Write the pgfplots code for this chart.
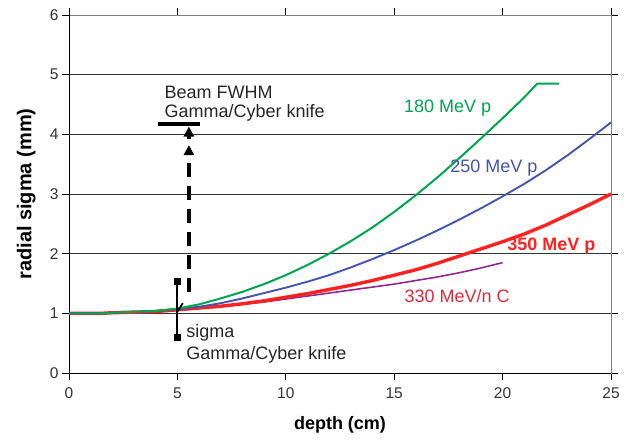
\documentclass[border=0pt]{standalone}
\usepackage{pgfplots}
\pgfplotsset{compat=1.18}
\usetikzlibrary{arrows.meta}
\usepackage{fontspec}
\setmainfont{Liberation Sans}
\definecolor{c180}{HTML}{00A550}
\definecolor{c250}{HTML}{4455AA}
\definecolor{c350}{HTML}{FF2222}
\definecolor{c330}{HTML}{8E2A8E}
\definecolor{l330}{HTML}{DD2A3A}

\begin{document}
\begin{tikzpicture}
\useasboundingbox (0,0) rectangle (626bp,440bp);
\begin{axis}[
  at={(69bp,67bp)}, anchor=south west,
  scale only axis,
  width=542bp, height=358bp,
  xmin=0, xmax=25, ymin=0, ymax=6,
  xtick={0,5,...,25}, ytick={0,1,...,6},
  ymajorgrids,
  grid style={black!80, line width=0.9bp},
  axis line style={draw=gray, line width=0.9bp},
  tick style={black, line width=0.9bp},
  tick align=outside,
  major tick length=7bp,
  tick label style={font=\fontsize{15.5bp}{18bp}\selectfont, text=black!80},
  x tick label style={yshift=-4bp},
  /pgf/number format/assume math mode=true,
  xlabel={\textbf{depth (cm)}},
  ylabel={\textbf{radial sigma (mm)}},
  xlabel style={font=\fontsize{18bp}{21bp}\selectfont, at={(axis description cs:0.5,-0.145)}, anchor=center},
  ylabel style={font=\fontsize{20bp}{23bp}\selectfont, at={(axis description cs:-0.079,0.5)}, anchor=center},
  clip=false,
]
% left and bottom axis lines in black
\draw[black, line width=1bp] (rel axis cs:0,1) -- (rel axis cs:0,0) -- (rel axis cs:1,0);

% 330 MeV/n C
\addplot[c330, line width=1.6bp] coordinates {
  (0,1) (1.5,1.0) (2,1.01) (4,1.03) (5,1.05) (6,1.08) (7,1.11) (8,1.15) (9,1.19)
  (10,1.24) (11,1.29) (12,1.34) (13,1.39) (14,1.44) (15,1.49) (16,1.55)
  (17,1.61) (18,1.68) (19,1.76) (20,1.85)
};
% 350 MeV p
\addplot[c350, line width=3.4bp] coordinates {
  (0,1) (1.5,1.0) (2,1.01) (4,1.03) (5,1.06) (6,1.09) (7,1.12) (8,1.16) (9,1.21)
  (10,1.27) (11,1.33) (12,1.40) (13,1.47) (14,1.55) (15,1.64) (16,1.73)
  (17,1.84) (18,1.96) (19,2.08) (20,2.20) (21,2.33) (22,2.48) (23,2.65)
  (24,2.82) (25,3.00)
};
% 250 MeV p
\addplot[c250, line width=1.9bp] coordinates {
  (0,1) (1.5,1.0) (2,1.01) (4,1.04) (5,1.07) (6,1.11) (7,1.17) (8,1.25) (9,1.34)
  (10,1.43) (11,1.53) (12,1.64) (13,1.77) (14,1.91) (15,2.06) (16,2.22)
  (17,2.39) (18,2.57) (19,2.76) (20,2.96) (21,3.17) (22,3.40) (23,3.65)
  (24,3.92) (25,4.20)
};
% 180 MeV p
\addplot[c180, line width=2bp] coordinates {
  (0,1) (1.5,1.0) (2,1.01) (4,1.04) (5,1.08) (6,1.15) (7,1.25) (8,1.36) (9,1.49)
  (10,1.64) (11,1.81) (12,2.00) (13,2.21) (14,2.44) (15,2.70) (16,2.98)
  (17,3.28) (18,3.60) (19,3.93) (20,4.27) (21,4.62) (21.6,4.85) (22.6,4.85)
};

% sigma bar of Gamma/Cyber knife
\addplot[black, line width=2bp, mark=square*, mark size=2.4bp] coordinates {(5,0.6) (5,1.53)};
\addplot[black, line width=1.8bp] coordinates {(5.0,1.03) (5.25,1.17)};
% beam FWHM bar and dashed arrow
\addplot[black, line width=3.6bp] coordinates {(4.1,4.17) (6.05,4.17)};
\addplot[black, line width=4bp, dash pattern=on 14bp off 9bp,
  -{Triangle[length=10bp,width=10bp]}] coordinates {(5.53,1.36) (5.53,3.82)};
\addplot[black, line width=4bp, -{Triangle[length=10bp,width=10bp]}]
  coordinates {(5.53,3.93) (5.53,4.13)};

\begin{scope}[every node/.style={font=\fontsize{18bp}{21bp}\selectfont}]
\node[anchor=west, text=black!85] at (axis cs:4.25,4.71) {Beam FWHM};
\node[anchor=west, text=black!85] at (axis cs:4.25,4.36) {Gamma/Cyber knife};
\node[anchor=west, text=black!85] at (axis cs:5.25,0.67) {sigma};
\node[anchor=west, text=black!85] at (axis cs:5.25,0.30) {Gamma/Cyber knife};
\node[text=c180] at (axis cs:17.47,4.44) {180 MeV p};
\node[text=c250] at (axis cs:19.6,3.43) {250 MeV p};
\node[text=c350, font=\fontsize{18bp}{21bp}\selectfont\bfseries] at (axis cs:22.25,2.12) {350 MeV p};
\node[text=l330] at (axis cs:17.9,1.29) {330 MeV/n C};
\end{scope}
\end{axis}
\end{tikzpicture}
\end{document}
